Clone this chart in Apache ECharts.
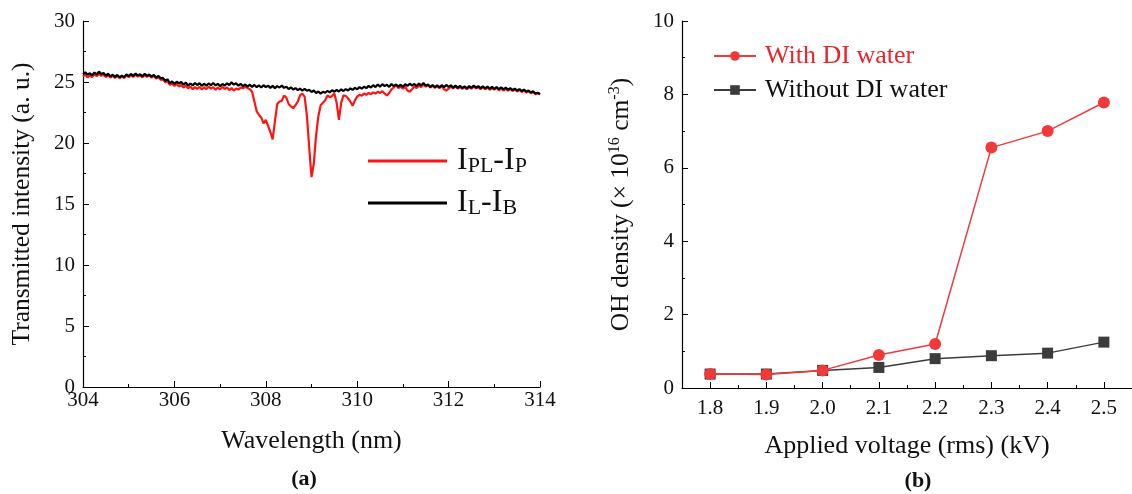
<!DOCTYPE html>
<html>
<head>
<meta charset="utf-8">
<script src="https://cdn.jsdelivr.net/npm/echarts@6/dist/echarts.min.js"></script>
<style>
  html, body { margin: 0; padding: 0; background: #fff; }
  #chart { width: 1132px; height: 494px; }
</style>
</head>
<body>
<div id="chart"></div>
<script>
// ---------- Panel (a): transmitted intensity spectra ----------
const wlStart = 304, wlStep = 0.05, wlCount = 201;
const wavelengths = [];
for (let i = 0; i < wlCount; i++) wavelengths.push(+(wlStart + i * wlStep).toFixed(2));

// I_PL - I_P (red)
const redSpectrum = [
  25.45,25.60,25.38,25.55,25.40,25.62,25.48,25.66,25.50,25.60,
  25.40,25.56,25.36,25.52,25.34,25.50,25.30,25.46,25.32,25.54,
  25.40,25.58,25.42,25.60,25.44,25.56,25.38,25.58,25.42,25.54,
  25.36,25.50,25.28,25.40,25.18,25.22,24.98,25.06,24.76,24.88,
  24.68,24.84,24.62,24.76,24.54,24.70,24.48,24.62,24.40,24.58,
  24.44,24.60,24.38,24.56,24.42,24.62,24.46,24.58,24.36,24.54,
  24.40,24.60,24.42,24.56,24.34,24.50,24.30,24.46,24.38,24.55,
  24.48,24.60,24.50,24.40,24.20,23.40,22.60,22.30,22.10,21.60,
  21.90,21.40,20.90,20.30,21.80,23.20,23.40,23.45,23.90,23.70,
  23.20,23.00,22.85,23.10,23.40,23.90,24.05,23.80,22.20,19.60,
  17.20,18.30,20.60,22.20,23.10,23.30,23.50,23.90,23.75,23.85,
  24.05,23.30,21.90,23.30,23.90,23.85,23.65,23.40,23.05,23.50,
  23.80,23.95,23.88,24.05,23.95,24.10,24.00,24.15,24.05,24.20,
  24.10,24.25,24.05,23.90,24.10,24.40,24.55,24.75,24.50,24.62,
  24.45,24.60,24.30,24.20,24.40,24.62,24.50,24.70,24.58,24.80,
  24.62,24.74,24.54,24.70,24.52,24.66,24.50,24.68,24.40,24.30,
  24.45,24.62,24.48,24.66,24.46,24.60,24.44,24.58,24.40,24.60,
  24.46,24.64,24.48,24.56,24.42,24.58,24.40,24.56,24.36,24.52,
  24.38,24.54,24.32,24.48,24.30,24.46,24.28,24.44,24.26,24.40,
  24.22,24.36,24.18,24.30,24.14,24.24,24.08,24.18,24.00,24.08,
  23.98
];
// I_L - I_B (black)
const blackSpectrum = [
  25.65,25.80,25.60,25.72,25.55,25.78,25.62,25.85,25.66,25.74,
  25.52,25.68,25.45,25.60,25.42,25.58,25.38,25.52,25.40,25.62,
  25.48,25.66,25.50,25.70,25.52,25.64,25.46,25.68,25.50,25.62,
  25.44,25.58,25.36,25.50,25.30,25.34,25.10,25.22,24.90,25.05,
  24.85,25.02,24.88,25.00,24.78,24.95,24.70,24.88,24.72,24.92,
  24.75,24.90,24.68,24.86,24.70,24.88,24.74,24.92,24.72,24.85,
  24.66,24.84,24.70,24.90,24.74,24.98,24.78,24.90,24.70,24.85,
  24.66,24.80,24.62,24.78,24.60,24.76,24.58,24.72,24.55,24.74,
  24.58,24.70,24.52,24.68,24.50,24.66,24.55,24.70,24.52,24.62,
  24.42,24.56,24.38,24.50,24.34,24.46,24.30,24.44,24.28,24.36,
  24.18,24.30,24.10,24.22,24.05,24.20,24.12,24.28,24.15,24.32,
  24.20,24.36,24.22,24.40,24.26,24.42,24.30,24.48,24.35,24.52,
  24.40,24.58,24.45,24.62,24.50,24.68,24.55,24.74,24.58,24.80,
  24.62,24.82,24.66,24.78,24.60,24.84,24.66,24.80,24.62,24.78,
  24.60,24.82,24.68,24.86,24.70,24.84,24.66,24.88,24.72,24.92,
  24.70,24.80,24.60,24.74,24.58,24.72,24.56,24.74,24.58,24.76,
  24.60,24.72,24.54,24.70,24.52,24.68,24.50,24.64,24.48,24.66,
  24.52,24.70,24.54,24.66,24.50,24.64,24.48,24.62,24.46,24.60,
  24.44,24.58,24.42,24.56,24.40,24.54,24.38,24.50,24.34,24.46,
  24.30,24.42,24.26,24.38,24.22,24.30,24.14,24.24,24.06,24.12,
  24.02
];
const spectrumNames = ['IPL-IP', 'IL-IB'];

// ---------- Panel (b): OH density ----------
const voltages = [1.8, 1.9, 2.0, 2.1, 2.2, 2.3, 2.4, 2.5];
const voltageMinorTicks = [1.85, 1.95, 2.05, 2.15, 2.25, 2.35, 2.45];
const withDI = [0.38, 0.37, 0.48, 0.90, 1.20, 6.55, 7.00, 7.78];
const withoutDI = [0.38, 0.38, 0.48, 0.56, 0.80, 0.88, 0.95, 1.25];
const ohNames = ['With DI water', 'Without DI water'];

const FONT = "'Liberation Serif', 'Times New Roman', serif";
const RED = '#ff1414';
const RED_B = '#f03a3a';
const DARK = '#3c3c3c';

const axisLineStyle = { lineStyle: { color: '#000', width: 1.2 } };
const tickLabel = { color: '#111', fontSize: 21, fontFamily: FONT };

const chart = echarts.init(document.getElementById('chart'), null, { renderer: 'canvas' });

const option = {
  animation: false,
  backgroundColor: '#fff',
  grid: [
    { left: 83, top: 21, width: 457, height: 366 },
    { left: 682, top: 21, width: 450, height: 367 }
  ],
  xAxis: [
    {
      gridIndex: 0, type: 'value', min: 304, max: 314, interval: 2,
      axisLine: axisLineStyle,
      axisTick: { inside: true, length: 6, lineStyle: { color: '#000' } },
      minorTick: { show: true, splitNumber: 2, length: 3, lineStyle: { color: '#000' } },
      splitLine: { show: false },
      axisLabel: Object.assign({ margin: 3 }, tickLabel),
      name: 'Wavelength (nm)', nameLocation: 'middle', nameGap: 41,
      nameTextStyle: { fontSize: 26, fontFamily: FONT, color: '#111' }
    },
    {
      gridIndex: 1, type: 'value', min: 1.75, max: 2.55, position: 'bottom',
      axisLine: axisLineStyle,
      axisTick: { inside: true, length: 6, customValues: voltages, lineStyle: { color: '#000' } },
      splitLine: { show: false },
      axisLabel: Object.assign({ margin: 10, customValues: voltages, formatter: v => v.toFixed(1) }, tickLabel),
      name: 'Applied voltage (rms) (kV)', nameLocation: 'middle', nameGap: 45,
      nameTextStyle: { fontSize: 26, fontFamily: FONT, color: '#111' }
    },
    {
      gridIndex: 1, type: 'value', min: 1.75, max: 2.55, position: 'bottom', offset: 0,
      axisLine: { show: false },
      axisTick: { inside: true, length: 3, customValues: voltageMinorTicks, lineStyle: { color: '#000' } },
      axisLabel: { show: false },
      splitLine: { show: false }
    }
  ],
  yAxis: [
    {
      gridIndex: 0, type: 'value', min: 0, max: 30, interval: 5,
      axisLine: Object.assign({ show: true }, axisLineStyle),
      axisTick: { show: true, inside: true, length: 6, lineStyle: { color: '#000' } },
      minorTick: { show: true, splitNumber: 2, length: 3, lineStyle: { color: '#000' } },
      splitLine: { show: false },
      axisLabel: Object.assign({ margin: 8 }, tickLabel),
      name: 'Transmitted intensity (a. u.)', nameLocation: 'middle', nameGap: 48,
      nameTextStyle: { fontSize: 25.5, fontFamily: FONT, color: '#111' }
    },
    {
      gridIndex: 1, type: 'value', min: 0, max: 10, interval: 2,
      axisLine: Object.assign({ show: true }, axisLineStyle),
      axisTick: { show: true, inside: true, length: 6, lineStyle: { color: '#000' } },
      minorTick: { show: true, splitNumber: 2, length: 3, lineStyle: { color: '#000' } },
      splitLine: { show: false },
      axisLabel: Object.assign({ margin: 8 }, tickLabel),
      name: '{a|OH density (× 10}{p|16}{a| cm}{p|-3}{a|)}', nameLocation: 'middle', nameGap: 47,
      nameTextStyle: {
        color: '#111',
        rich: {
          a: { fontSize: 25.5, fontFamily: FONT, color: '#111', lineHeight: 28 },
          p: { fontSize: 16, fontFamily: FONT, color: '#111', lineHeight: 16, verticalAlign: 'top' }
        }
      }
    }
  ],
  legend: [
    {
      id: 'legA',
      left: 368, top: 145, orient: 'vertical', padding: 0, itemGap: 10,
      itemWidth: 79, itemHeight: 3.2, selectedMode: false,
      icon: 'rect',
      data: spectrumNames,
      formatter: function (name) {
        if (name === 'IPL-IP') return '{g|}{m|I}{s|PL}{m|-I}{s|P}';
        return '{g|}{m|I}{s|L}{m|-I}{s|B}';
      },
      textStyle: {
        rich: {
          g: { width: 5, lineHeight: 32 },
          m: { fontSize: 32, fontFamily: FONT, color: '#111', lineHeight: 32 },
          s: { fontSize: 22, fontFamily: FONT, color: '#111', lineHeight: 14, verticalAlign: 'bottom' }
        }
      }
    },
    {
      id: 'legB',
      left: 713, top: 43, orient: 'vertical', padding: 0, itemGap: 8,
      itemWidth: 42, itemHeight: 12, selectedMode: false,
      data: [
        { name: ohNames[0], textStyle: { color: '#e8262a' } },
        { name: ohNames[1], textStyle: { color: '#111' } }
      ],
      formatter: function (name) { return '{g|}' + name; },
      textStyle: {
        fontSize: 26, fontFamily: FONT, lineHeight: 25,
        rich: { g: { width: 4, lineHeight: 25 } }
      }
    }
  ],
  series: [
    {
      name: spectrumNames[0], type: 'line', xAxisIndex: 0, yAxisIndex: 0,
      symbol: 'none', color: RED, lineStyle: { color: RED, width: 2.2 },
      data: wavelengths.map((w, i) => [w, redSpectrum[i]]), z: 2
    },
    {
      name: spectrumNames[1], type: 'line', xAxisIndex: 0, yAxisIndex: 0,
      symbol: 'none', color: '#000', lineStyle: { color: '#000', width: 2.2 },
      data: wavelengths.map((w, i) => [w, blackSpectrum[i]]), z: 3
    },
    {
      name: ohNames[1], type: 'line', xAxisIndex: 1, yAxisIndex: 1,
      symbol: 'rect', symbolSize: 11, color: DARK,
      itemStyle: { color: DARK }, lineStyle: { color: DARK, width: 1.5 },
      data: voltages.map((v, i) => [v, withoutDI[i]]), z: 2
    },
    {
      name: ohNames[0], type: 'line', xAxisIndex: 1, yAxisIndex: 1,
      symbol: 'circle', symbolSize: 12, color: RED_B,
      itemStyle: { color: RED_B }, lineStyle: { color: RED_B, width: 1.5 },
      data: voltages.map((v, i) => [v, withDI[i]]), z: 3
    }
  ],
  graphic: [
    {
      type: 'text',
      style: { text: '(a)', font: "bold 22px 'Liberation Serif', serif", fill: '#111', x: 304, y: 479, textAlign: 'center', textVerticalAlign: 'middle' }
    },
    {
      type: 'text',
      style: { text: '(b)', font: "bold 22px 'Liberation Serif', serif", fill: '#111', x: 918, y: 481, textAlign: 'center', textVerticalAlign: 'middle' }
    }
  ]
};

chart.setOption(option);
</script>
</body>
</html>
